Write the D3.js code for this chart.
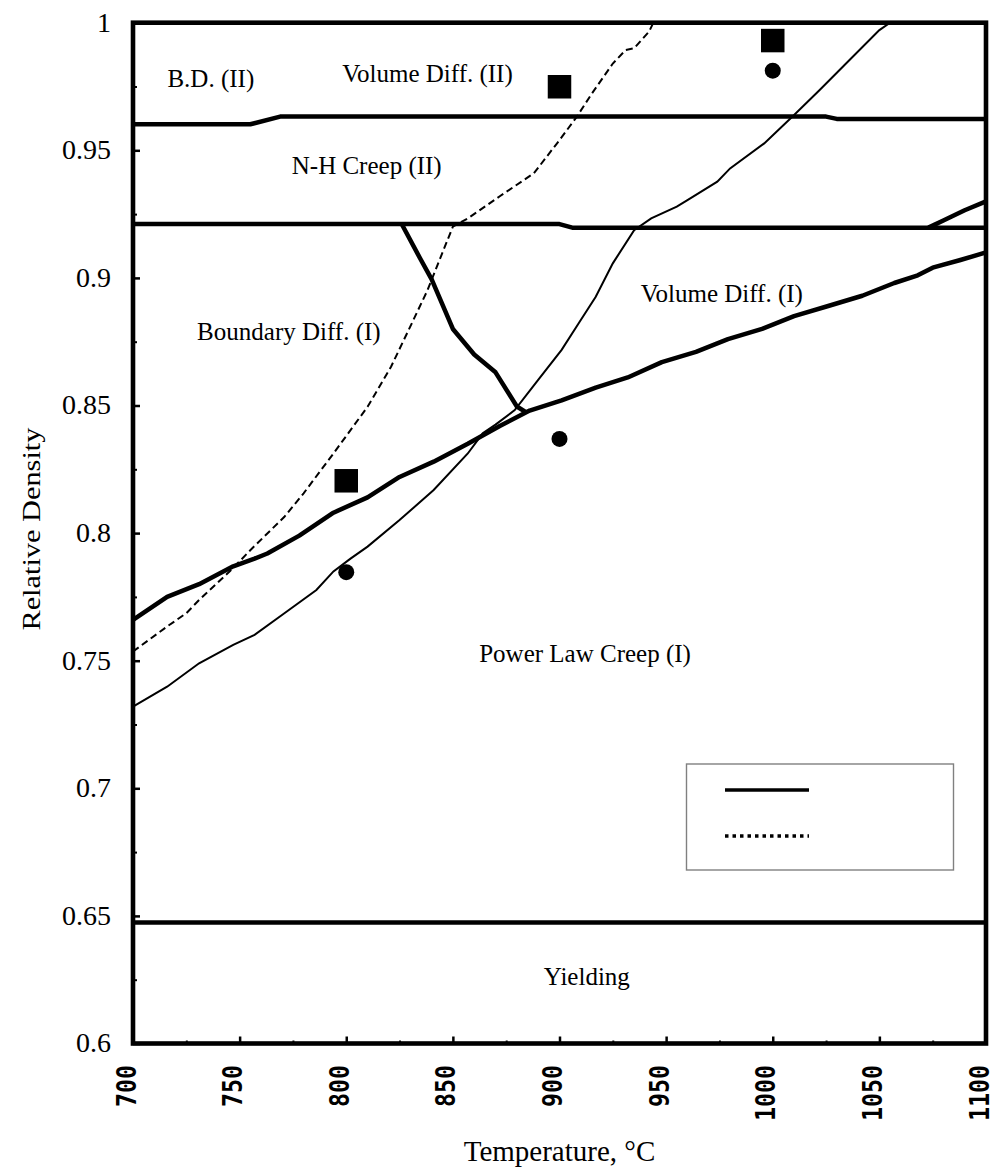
<!DOCTYPE html>
<html>
<head>
<meta charset="utf-8">
<script src="https://cdn.jsdelivr.net/npm/d3@7"></script>
<style>
	body { margin: 0; background: #fff; }
	text { font-family: "Liberation Serif", "Times New Roman", serif; fill: #000; }
</style>
</head>
<body>
<div id="container"></div>
<script>
// ---- data (temperature in C, relative density) ----
var tempTicks = [700, 750, 800, 850, 900, 950, 1000, 1050, 1100];
var densityTicks = [0.6, 0.65, 0.7, 0.75, 0.8, 0.85, 0.9, 0.95, 1];

// map boundaries (thick lines)
var boundaryUpper = [[700, 0.9602], [755, 0.9602], [769, 0.9632], [1025, 0.9632], [1030, 0.9623], [1100, 0.9623]];
var boundaryMiddle = [[700, 0.9211], [900, 0.9211], [906, 0.9197], [1100, 0.9197]];
var boundaryRise = [[1073, 0.9197], [1080, 0.9225], [1090, 0.9265], [1100, 0.9300]];
var boundaryDiag = [[826, 0.9211], [834.6, 0.9077], [840, 0.8995], [850, 0.8800], [860, 0.8700], [870, 0.8630], [880, 0.8496], [884.6, 0.8472]];
var boundaryPowerLaw = [[700, 0.766], [716, 0.775], [731, 0.780], [747, 0.787], [757, 0.790], [763, 0.792], [778, 0.799],
	[794, 0.808], [810, 0.814], [825, 0.822], [841, 0.828], [857, 0.835], [872, 0.842], [886, 0.848], [901, 0.852],
	[917, 0.857], [932, 0.861], [948, 0.867], [964, 0.871], [979, 0.876], [995, 0.880], [1010, 0.885], [1026, 0.889],
	[1042, 0.893], [1057, 0.898], [1068, 0.901], [1075, 0.904], [1088, 0.907], [1100, 0.910]];
var boundaryYield = [[700, 0.6474], [1100, 0.6474]];

// densification paths
var solidPath = [[700, 0.732], [716, 0.7398], [731, 0.749], [747, 0.7562], [757, 0.7601], [771, 0.7686], [786, 0.7777],
	[794, 0.785], [802, 0.790], [810, 0.7947], [825, 0.8051], [841, 0.8169], [857, 0.8312], [864, 0.8391], [870, 0.8425],
	[879, 0.8482], [890, 0.860], [901, 0.8718], [909, 0.8822], [917, 0.8926], [925, 0.9057], [935, 0.9187], [943, 0.9233],
	[955, 0.9279], [960, 0.9305], [974, 0.9377], [980, 0.9429], [996, 0.9527], [1010, 0.9638], [1022, 0.9736],
	[1036, 0.9854], [1050, 0.9971], [1055, 1.0]];
var dashedPath = [[700, 0.7536], [716, 0.7634], [725, 0.7686], [731, 0.7738], [746, 0.7855], [755, 0.7933], [771, 0.8064],
	[780, 0.8156], [794, 0.8312], [810, 0.8495], [821, 0.8652], [830, 0.8809], [838, 0.895], [850, 0.9201], [857, 0.9233],
	[872, 0.932], [888, 0.941], [900, 0.954], [908, 0.963], [915, 0.972], [925, 0.984], [931, 0.9893], [935, 0.990],
	[942, 0.9965], [944, 1.0]];

// experimental points
var squarePoints = [[800, 0.8205], [900, 0.9749], [1000, 0.993]];
var circlePoints = [[800, 0.7847], [900, 0.8369], [1000, 0.9812]];

// region names, anchored at (temperature, density)
var regionNames = ["B.D. (II)", "Volume Diff. (II)", "N-H Creep (II)", "Boundary Diff. (I)", "Volume Diff. (I)", "Power Law Creep (I)", "Yielding"];
var regionAnchors = [[736.5, 0.9747], [838.1, 0.9769], [809.6, 0.9407], [773.1, 0.8757], [976.1, 0.8907], [912, 0.7496], [912.8, 0.6229]];

(function()
{
	// setup
	var width = 995, height = 1170;
	var left = 133, right = 986, top = 22.7, bottom = 1043.5;
	var svg = d3.select("#container").append("svg")
		.attr("width", width)
		.attr("height", height);

	var x = d3.scaleLinear().domain([700, 1100]).range([left, right]);
	var y = d3.scaleLinear().domain([0.6, 1]).range([bottom, top]);

	var line = d3.line()
		.x(function(d) { return x(d[0]); })
		.y(function(d) { return y(d[1]); });

	// y axis ticks (pointing inside) and labels
	var yMinor = d3.range(0.625, 1, 0.05);
	svg.append("g")
		.attr("transform", "translate(" + left + ",0)")
		.call(d3.axisLeft(y).tickValues(yMinor).tickSize(-4).tickFormat(""))
		.call(function(g) { g.select(".domain").remove(); })
		.selectAll("line").attr("stroke", "#000").attr("stroke-width", 2);
	var yAxis = svg.append("g")
		.attr("transform", "translate(" + left + ",0)")
		.call(d3.axisLeft(y).tickValues(densityTicks).tickSize(-7).tickPadding(22).tickFormat(function(d) { return String(+d.toFixed(2)); }));
	yAxis.select(".domain").remove();
	yAxis.selectAll("line").attr("stroke", "#000").attr("stroke-width", 2.5);
	yAxis.selectAll("text")
		.attr("dy", "0.3em")
		.style("font-family", "'Liberation Serif', serif")
		.style("font-size", "28px")
		.attr("fill", "#000");

	// x axis ticks (pointing inside) and rotated labels
	var xMinor = d3.range(725, 1100, 50);
	svg.append("g")
		.attr("transform", "translate(0," + bottom + ")")
		.call(d3.axisBottom(x).tickValues(xMinor).tickSize(-3).tickFormat(""))
		.call(function(g) { g.select(".domain").remove(); })
		.selectAll("line").attr("stroke", "#000").attr("stroke-width", 2);
	var xAxis = svg.append("g")
		.attr("transform", "translate(0," + bottom + ")")
		.call(d3.axisBottom(x).tickValues(tempTicks).tickSize(-7).tickFormat(d3.format("d")));
	xAxis.select(".domain").remove();
	xAxis.selectAll("line").attr("stroke", "#000").attr("stroke-width", 2.5);
	xAxis.selectAll("text")
		.attr("x", null).attr("y", null).attr("dy", null)
		.attr("transform", "translate(2,21.5) rotate(-90)")
		.attr("text-anchor", "end")
		.attr("textLength", function(d) { return String(d).length * 14; })
		.attr("lengthAdjust", "spacingAndGlyphs")
		.style("font-family", "'DejaVu Sans Mono', monospace")
		.style("font-weight", "bold")
		.style("font-size", "27px")
		.attr("fill", "#000");

	// plot frame
	svg.append("rect")
		.attr("x", left).attr("y", top)
		.attr("width", right - left).attr("height", bottom - top)
		.attr("fill", "none")
		.attr("stroke", "#000")
		.attr("stroke-width", 4.6);

	// legend box (line samples only)
	svg.append("rect")
		.attr("x", 686.5).attr("y", 764)
		.attr("width", 267).attr("height", 106)
		.attr("fill", "#fff")
		.attr("stroke", "#808080")
		.attr("stroke-width", 1.4);
	svg.append("line")
		.attr("x1", 725).attr("x2", 809).attr("y1", 790).attr("y2", 790)
		.attr("stroke", "#000").attr("stroke-width", 3.5);
	svg.append("line")
		.attr("x1", 725).attr("x2", 809).attr("y1", 836).attr("y2", 836)
		.attr("stroke", "#000").attr("stroke-width", 3.5)
		.attr("stroke-dasharray", "3.5,4");

	// map boundaries
	var boundaries = [boundaryUpper, boundaryMiddle, boundaryRise, boundaryDiag, boundaryPowerLaw, boundaryYield];
	svg.selectAll(".boundary")
		.data(boundaries)
		.enter().append("path")
		.attr("class", "boundary")
		.attr("d", line)
		.attr("fill", "none")
		.attr("stroke", "#000")
		.attr("stroke-width", 4.5)
		.attr("stroke-linejoin", "round");

	// densification paths
	svg.append("path")
		.attr("d", line(solidPath))
		.attr("fill", "none")
		.attr("stroke", "#000")
		.attr("stroke-width", 2);
	svg.append("path")
		.attr("d", line(dashedPath))
		.attr("fill", "none")
		.attr("stroke", "#000")
		.attr("stroke-width", 2)
		.attr("stroke-dasharray", "7,4");

	// experimental points
	var sq = 23.5;
	svg.selectAll(".sq")
		.data(squarePoints)
		.enter().append("rect")
		.attr("class", "sq")
		.attr("x", function(d) { return x(d[0]) - sq / 2; })
		.attr("y", function(d) { return y(d[1]) - sq / 2; })
		.attr("width", sq).attr("height", sq)
		.attr("fill", "#000");
	svg.selectAll(".dot")
		.data(circlePoints)
		.enter().append("circle")
		.attr("class", "dot")
		.attr("cx", function(d) { return x(d[0]); })
		.attr("cy", function(d) { return y(d[1]); })
		.attr("r", 8)
		.attr("fill", "#000");

	// region names
	svg.selectAll(".region")
		.data(regionNames)
		.enter().append("text")
		.attr("class", "region")
		.attr("x", function(d, i) { return x(regionAnchors[i][0]); })
		.attr("y", function(d, i) { return y(regionAnchors[i][1]); })
		.attr("text-anchor", "middle")
		.style("font-size", "25px")
		.text(function(d) { return d; });

	// axis titles
	svg.append("text")
		.attr("x", (left + right) / 2)
		.attr("y", 1161)
		.attr("text-anchor", "middle")
		.style("font-size", "29px")
		.text("Temperature, \u00B0C");
	svg.append("text")
		.attr("transform", "translate(40," + ((top + bottom) / 2 - 4) + ") rotate(-90)")
		.attr("text-anchor", "middle")
		.attr("textLength", 203)
		.attr("lengthAdjust", "spacingAndGlyphs")
		.style("font-size", "26px")
		.text("Relative Density");
})();
</script>
</body>
</html>
